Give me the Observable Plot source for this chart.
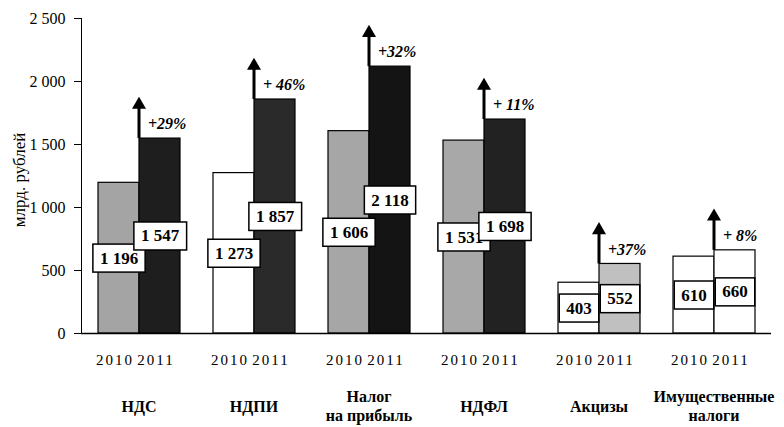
<!DOCTYPE html>
<html><head><meta charset="utf-8">
<script src="https://cdn.jsdelivr.net/npm/d3@7"></script>
<script src="https://cdn.jsdelivr.net/npm/@observablehq/plot@0.6"></script>
<style>
body{margin:0;background:#fff}
#chart svg text{font-family:"Liberation Serif","Times New Roman",serif}
g[aria-label="x-axis tick label"] text{letter-spacing:2px}
</style></head><body><div id="chart"></div>
<script>
const categories = ["НДС","НДПИ","Налог\nна прибыль","НДФЛ","Акцизы","Имущественные\nналоги"];
const years = ["2010","2011"];
const values2010 = [1196,1273,1606,1531,403,610];
const values2011 = [1547,1857,2118,1698,552,660];
const growthLabels = ["+29%","+ 46%","+32%","+ 11%","+37%","+ 8%"];
const yTicks = [0,500,1000,1500,2000,2500];
const yLabel = "млрд. рублей";

// styles (kept apart from the data)
const fills = {
  "2010": ["#a4a4a4","#ffffff","#a6a6a6","#a8a8a8","#ffffff","#ffffff"],
  "2011": ["#1e1e1e","#2a2a2a","#141414","#222222","#c0c0c0","#ffffff"]
};
const serif = "Liberation Serif";

const bars = categories.flatMap((c,i)=>[
  {category:c, year:"2010", value: values2010[i], i},
  {category:c, year:"2011", value: values2011[i], i}
]);
const growth = categories.map((c,i)=>({category:c, year:"2011", to: values2011[i], label: growthLabels[i]}));
const fmt = d => d3.format(",")(d).replace(/,/g," ");

const chart = Plot.plot({
  width: 784, height: 427,
  marginTop: 18, marginBottom: 94, marginLeft: 79, marginRight: 11,
  style: {fontFamily: '"Liberation Serif", serif', fontSize: "16px", color: "#000", background: "#fff"},
  fx: {domain: categories, paddingInner: 0, paddingOuter: 0, axis: null, label: null},
  x: {domain: years, paddingInner: 0, paddingOuter: 0.381, label: null},
  y: {domain: [0, 2500], ticks: yTicks, tickFormat: fmt, tickSize: 7, tickPadding: 9, line: true, label: null},
  marks: [
    Plot.barY(bars, {fx: "category", x: "year", y: "value", fill: d => fills[d.year][d.i], stroke: "#000", strokeWidth: 1.2}),
    Plot.ruleY([0], {stroke: "#000", strokeWidth: 1.5}),
    Plot.axisX({anchor: "bottom", tickSize: 0, tickPadding: 21, fontSize: 15, dx: -4, label: null}),
    Plot.ruleX(growth, {fx: "category", x: "year", y1: d => d.to, y2: d => d.to + 255, dx: -21, stroke: "#000", strokeWidth: 3}),
    Plot.dot(growth, {fx: "category", x: "year", y: d => d.to + 268, dx: -21, symbol: "triangle", r: 5.2, fill: "#000", stroke: "none"}),
    Plot.text(growth, {fx: "category", x: "year", y: d => d.to + 115, dx: -12, text: "label", textAnchor: "start",
      fontFamily: serif, fontWeight: "bold", fontStyle: "italic", fontSize: 16}),
    Plot.text(bars, {fx: "category", x: "year", y: d => d.value / 2, text: d => fmt(d.value),
      fontFamily: serif, fontWeight: "bold", fontSize: 17, fill: "#000"}),
    Plot.text(categories, {fx: d => d, text: d => d, frameAnchor: "bottom", dy: 72, lineAnchor: "middle",
      fontFamily: serif, fontWeight: "bold", fontSize: 16, lineHeight: 1.2}),
    Plot.text([yLabel], {fx: () => categories[0], text: d => d, frameAnchor: "left", textAnchor: "middle",
      rotate: -90, dx: -62, dy: 4, fontFamily: serif, fontSize: 17})
  ]
});
document.getElementById("chart").append(chart);

// white boxes with black frame behind the value labels
const svgNS = "http://www.w3.org/2000/svg";
const labelSet = new Set(bars.map(d => fmt(d.value)));
chart.querySelectorAll("text").forEach(t => {
  if (!labelSet.has(t.textContent)) return;
  const g = t.parentNode;
  const al = g.getAttribute("aria-label") || "";
  if (al.includes("axis")) return;
  const bb = t.getBBox();
  const r = document.createElementNS(svgNS, "rect");
  r.setAttribute("x", bb.x - 7);
  r.setAttribute("y", bb.y - 4.5);
  r.setAttribute("width", bb.width + 14);
  r.setAttribute("height", bb.height + 9);
  r.setAttribute("fill", "#fff");
  r.setAttribute("stroke", "#000");
  r.setAttribute("stroke-width", 1.5);
  const tr = t.getAttribute("transform");
  if (tr) r.setAttribute("transform", tr);
  g.insertBefore(r, t);
});
</script></body></html>
